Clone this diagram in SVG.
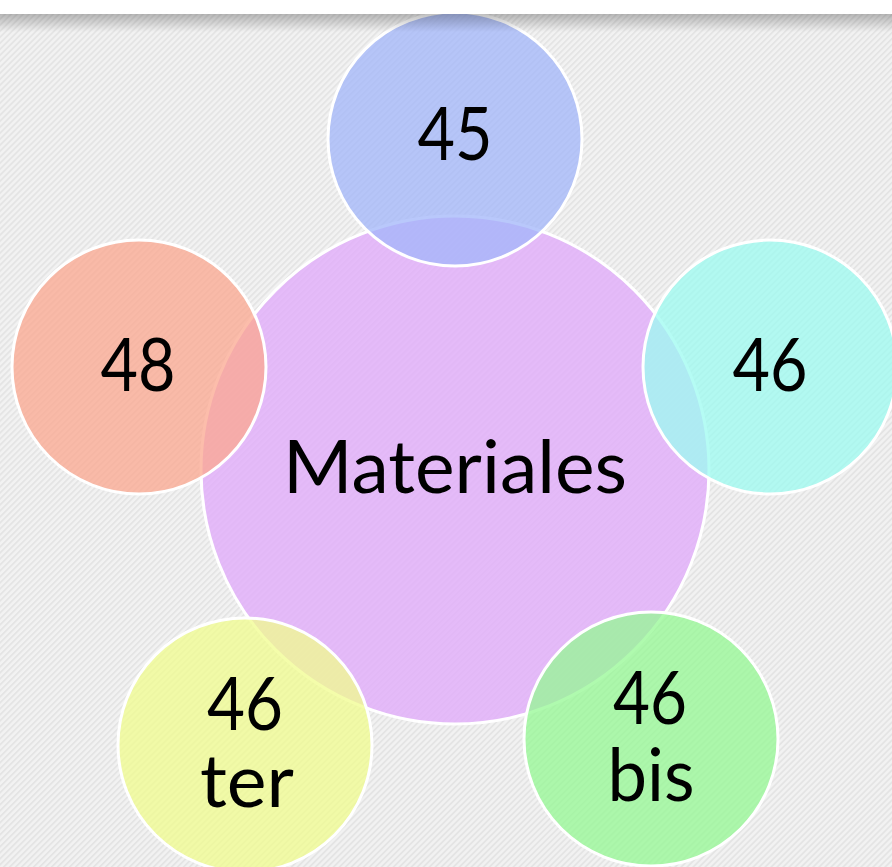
<svg xmlns="http://www.w3.org/2000/svg" width="892" height="867" viewBox="0 0 892 867">
  <defs>
    <pattern id="stripes" patternUnits="userSpaceOnUse" width="4.24" height="4.24" patternTransform="rotate(45)">
      <rect width="4.24" height="4.24" fill="#f2f2f2"/>
      <rect width="1.8" height="4.24" fill="#e4e4e4"/>
    </pattern>
    <linearGradient id="shadow" x1="0" y1="0" x2="0" y2="1">
      <stop offset="0" stop-color="#000" stop-opacity="0.25"/>
      <stop offset="1" stop-color="#000" stop-opacity="0"/>
    </linearGradient>
  </defs>
  <style>
    .c { stroke: #ffffff; stroke-width: 3; }
    .main { fill: #e1acfa; fill-opacity: 0.8; }
    .sat { fill-opacity: 0.75; }
    .t { font-family: Lato, "Liberation Sans", sans-serif; font-size: 74px; fill: #000; text-anchor: middle; }
  </style>
  <rect width="892" height="867" fill="url(#stripes)"/>

  <g id="node-materiales">
    <circle class="c main" cx="455" cy="470" r="254"/>
    <text class="t" x="455" y="493" textLength="344" lengthAdjust="spacingAndGlyphs">Materiales</text>
  </g>
  <g id="node-45">
    <circle class="c sat" cx="455" cy="139" r="127" fill="#a1b5f9"/>
    <text class="t" x="455" y="160" textLength="75" lengthAdjust="spacingAndGlyphs">45</text>
  </g>
  <g id="node-46">
    <circle class="c sat" cx="770" cy="367" r="127" fill="#9cfbf0"/>
    <text class="t" x="770" y="391" textLength="75" lengthAdjust="spacingAndGlyphs">46</text>
  </g>
  <g id="node-48">
    <circle class="c sat" cx="139" cy="367" r="127" fill="#fba78f"/>
    <text class="t" x="138" y="391" textLength="75" lengthAdjust="spacingAndGlyphs">48</text>
  </g>
  <g id="node-46ter">
    <circle class="c sat" cx="245" cy="745" r="127" fill="#f0fc8d"/>
    <text class="t"><tspan x="245" y="730" textLength="76" lengthAdjust="spacingAndGlyphs">46</tspan><tspan x="247" y="807" textLength="94" lengthAdjust="spacingAndGlyphs">ter</tspan></text>
  </g>
  <g id="node-46bis">
    <circle class="c sat" cx="651" cy="739" r="127" fill="#94f893"/>
    <text class="t"><tspan x="650" y="724" textLength="74" lengthAdjust="spacingAndGlyphs">46</tspan><tspan x="651" y="801" textLength="87" lengthAdjust="spacingAndGlyphs">bis</tspan></text>
  </g>
  <g id="connectors"></g>

  <rect x="0" y="14" width="892" height="18" fill="url(#shadow)"/>
  <rect x="0" y="0" width="892" height="14" fill="#ffffff"/>
</svg>
